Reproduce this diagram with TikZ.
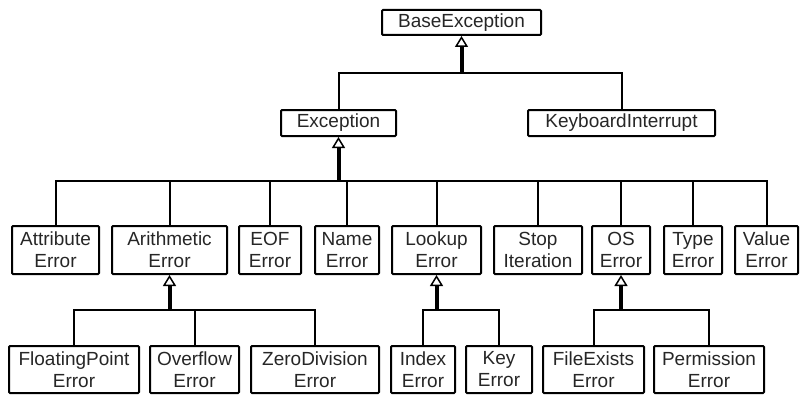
\documentclass[tikz,border=0pt]{standalone}
\usepackage{fontspec}
\setmainfont{Liberation Sans}
\usetikzlibrary{arrows.meta}

\tikzset{every picture/.style={line width=2pt}}
\tikzset{
	box/.style={draw, line width=2pt, rounded corners=1pt, inner sep=0pt, align=center, font=\fontsize{19}{22}\selectfont, text=black!85},
	link/.style={line width=2pt},
	up/.style={line width=4pt, -{Triangle[open, length=11pt, width=13pt, line width=1.5pt]}}
}

\begin{document}
\begin{tikzpicture}[x=1pt,y=1pt,yscale=-1,xscale=1]
	\useasboundingbox (0,0) rectangle (809,404);

	% Top level
	\node[box, minimum width=159, minimum height=25] (base) at (461.5,22.5) {BaseException};
	\node[box, minimum width=115, minimum height=26] (exception) at (338.5,123) {Exception};
	\node[box, minimum width=187, minimum height=26] (keyboard) at (621.5,123) {KeyboardInterrupt};

	% Second row
	\node[box, minimum width=87, minimum height=48] (attribute) at (55.5,250) {Attribute\\Error};
	\node[box, minimum width=115, minimum height=48] (arithmetic) at (169.5,250) {Arithmetic\\Error};
	\node[box, minimum width=62, minimum height=48] (eof) at (270,250) {EOF\\Error};
	\node[box, minimum width=64, minimum height=48] (name) at (347,250) {Name\\Error};
	\node[box, minimum width=89, minimum height=48] (lookup) at (436.5,250) {Lookup\\Error};
	\node[box, minimum width=88, minimum height=48] (stop) at (538,250) {Stop\\Iteration};
	\node[box, minimum width=58, minimum height=48] (os) at (621,250) {OS\\Error};
	\node[box, minimum width=58, minimum height=48] (type) at (693,250) {Type\\Error};
	\node[box, minimum width=63, minimum height=48] (value) at (766.5,250) {Value\\Error};

	% Third row
	\node[box, minimum width=130, minimum height=47] (floating) at (74,369.5) {FloatingPoint\\Error};
	\node[box, minimum width=89, minimum height=47] (overflow) at (194.5,369.5) {Overflow\\Error};
	\node[box, minimum width=128, minimum height=47] (zerodiv) at (315,369.5) {ZeroDivision\\Error};
	\node[box, minimum width=64, minimum height=47] (index) at (423,369.5) {Index\\Error};
	\node[box, minimum width=66, minimum height=47] (key) at (499,369.5) {Key\\Error};
	\node[box, minimum width=101, minimum height=47] (fileexists) at (593.5,369.5) {FileExists\\Error};
	\node[box, minimum width=110, minimum height=47] (permission) at (709,369.5) {Permission\\Error};

	% Junctions
	\coordinate (basej) at (461.5,73);
	\coordinate (excj) at (338.5,181);
	\coordinate (arithj) at (169.5,310);
	\coordinate (lookupj) at (436.5,310);
	\coordinate (osj) at (621,310);

	% BaseException
	\draw[link] (exception.north) |- (basej);
	\draw[link] (keyboard.north) |- (basej);
	\draw[up] (basej) -- (base.south);

	% Exception
	\draw[link] (attribute.north) |- (excj);
	\draw[link] (arithmetic.north) |- (excj);
	\draw[link] (eof.north) |- (excj);
	\draw[link] (name.north) |- (excj);
	\draw[link] (lookup.north) |- (excj);
	\draw[link] (stop.north) |- (excj);
	\draw[link] (os.north) |- (excj);
	\draw[link] (type.north) |- (excj);
	\draw[link] (value.north) |- (excj);
	\draw[up] (excj) -- (exception.south);

	% ArithmeticError
	\draw[link] (floating.north) |- (arithj);
	\draw[link] (overflow.north) |- (arithj);
	\draw[link] (zerodiv.north) |- (arithj);
	\draw[up] (arithj) -- (arithmetic.south);

	% LookupError
	\draw[link] (index.north) |- (lookupj);
	\draw[link] (key.north) |- (lookupj);
	\draw[up] (lookupj) -- (lookup.south);

	% OSError
	\draw[link] (fileexists.north) |- (osj);
	\draw[link] (permission.north) |- (osj);
	\draw[up] (osj) -- (os.south);

\end{tikzpicture}
\end{document}
